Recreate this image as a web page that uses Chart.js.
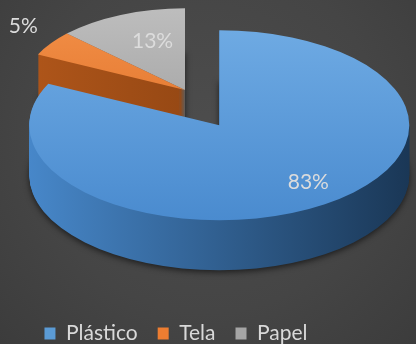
<!DOCTYPE html>
<html>
<head>
<meta charset="utf-8">
<script src="https://cdn.jsdelivr.net/npm/chart.js@4"></script>
<style>
  html, body { margin: 0; padding: 0; }
  body {
    width: 416px; height: 344px; overflow: hidden;
    background: radial-gradient(ellipse at 50% 40%, #4d4d4d 0%, #454545 60%, #3c3c3c 100%);
  }
  #wrap { position: relative; width: 416px; height: 344px; }
</style>
</head>
<body>
<div id="wrap"><canvas id="chart"></canvas></div>
<script>
// 素材別の割合（%）
const categories = ['Plástico', 'Tela', 'Papel'];
const shares = [83, 5, 13];
const baseColors = ['#5b9bd5', '#ed7d31', '#a5a5a5'];
const explode = [44, 0, 0];

// 3D風の見た目（上面 / 側面のグラデーション）
const TOP_GRAD = [['#6eaae3', '#4a8bcf'], ['#f39048', '#dd6e26'], ['#bdbdbd', '#9b9b9b']];
const SIDE_GRAD = [['#4787c9', '#1a3756'], ['#b0561a', '#7d3b0e'], ['#6e6e6e', '#4a4a4a']];
const PERSP = [1, 0.86, 0.86];
// ラベル位置: [半径の倍率, 角度のずれ(度)]
const LABEL_POS = [[0.76, -6], [1.26, 3.5], [0.63, 4.8]];
const PIE = { cx: 185, cy: 90, rx: 190, ry: 95, depth: 50, offTilt: 0.645 };

const pie3d = {
  id: 'pie3d',
  beforeDatasetsDraw(chart) {
    const ctx = chart.ctx;
    const arcs = chart.getDatasetMeta(0).data;
    const r0 = arcs[0].outerRadius;
    const sx = PIE.rx / r0, sy = PIE.ry / r0;

    // 切り出しのずれ（画面座標）と半径
    const geom = (a, i) => {
      const mid = (a.startAngle + a.endAngle) / 2;
      const off = a.options.offset || 0;
      return {
        mid,
        dx: Math.cos(mid) * off * sx,
        dy: Math.sin(mid) * off * sx * PIE.offTilt,
        r: a.outerRadius * PERSP[i],
      };
    };

    // 奥のスライスから順に描く
    [2, 1, 0].forEach(i => {
      const a = arcs[i];
      const { dx, dy, r } = geom(a, i);
      const depth = Math.round(PIE.depth * PERSP[i]);
      for (let z = depth; z >= 0; z--) {
        const top = z === 0;
        ctx.save();
        ctx.translate(PIE.cx + dx, PIE.cy + dy + z);
        ctx.scale(sx, sy);
        ctx.beginPath();
        ctx.moveTo(0, 0);
        ctx.arc(0, 0, r, a.startAngle, a.endAngle);
        ctx.closePath();
        const g = top
          ? ctx.createLinearGradient(0, -r, 0, r)
          : ctx.createLinearGradient(-r, 0, r, 0);
        const c = top ? TOP_GRAD[i] : SIDE_GRAD[i];
        g.addColorStop(0, c[0]);
        g.addColorStop(1, c[1]);
        ctx.fillStyle = g;
        if (z === depth) {
          ctx.shadowColor = 'rgba(0,0,0,0.6)';
          ctx.shadowBlur = 6;
          ctx.shadowOffsetY = 2;
        }
        ctx.fill();
        ctx.restore();
      }
    });

    // パーセント表示
    ctx.save();
    ctx.font = '21px Lato';
    ctx.fillStyle = '#dcdcdc';
    ctx.textAlign = 'center';
    ctx.textBaseline = 'middle';
    arcs.forEach((a, i) => {
      const { mid, dx, dy, r } = geom(a, i);
      const [k, shift] = LABEL_POS[i];
      const ang = mid + shift * Math.PI / 180;
      const x = PIE.cx + dx + Math.cos(ang) * r * k * sx;
      const y = PIE.cy + dy + Math.sin(ang) * r * k * sy;
      ctx.fillText(shares[i] + '%', x, y);
    });
    ctx.restore();
    return false;
  }
};

new Chart(document.getElementById('chart'), {
  type: 'pie',
  data: {
    labels: categories,
    datasets: [{
      data: shares,
      backgroundColor: baseColors,
      borderWidth: 0,
      offset: explode,
    }],
  },
  options: {
    responsive: true,
    maintainAspectRatio: false,
    animation: false,
    events: [],
    layout: { padding: { right: 64, bottom: -10 } },
    plugins: {
      tooltip: { enabled: false },
      legend: {
        position: 'bottom',
        labels: {
          color: '#d9d9d9',
          boxWidth: 11,
          boxHeight: 12,
          padding: 20,
          font: { family: 'Lato', size: 21 },
        },
      },
    },
  },
  plugins: [pie3d],
});
</script>
</body>
</html>
